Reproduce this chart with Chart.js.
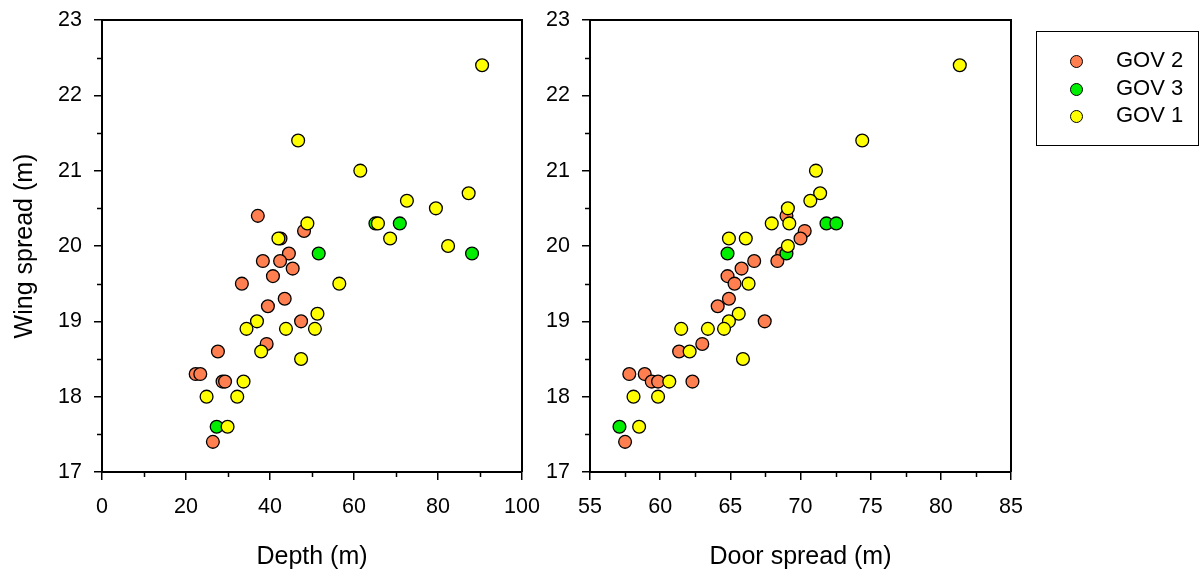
<!DOCTYPE html>
<html>
<head>
<meta charset="utf-8">
<script src="https://cdn.jsdelivr.net/npm/chart.js@4/dist/chart.umd.min.js"></script>
<style>
  html, body { margin:0; padding:0; background:#fff; }
  body { width:1203px; height:578px; position:relative; overflow:hidden; font-family:"Liberation Sans", Arial, sans-serif; }
  #c1 { position:absolute; left:0; top:0; }
  #c2 { position:absolute; left:530px; top:0; }
  #legend { position:absolute; left:1036px; top:31px; width:163px; height:115px; border:1.5px solid #000; box-sizing:border-box; }
  .row { position:absolute; left:0; height:24px; width:160px; }
  .dot { position:absolute; left:33px; top:6px; width:11px; height:11px; border:1.2px solid #000; border-radius:50%; }
  .lab { position:absolute; left:79px; top:-1px; font-size:22px; line-height:24px; color:#000; white-space:nowrap; }
</style>
</head>
<body>
<canvas id="c1" width="560" height="578"></canvas>
<canvas id="c2" width="673" height="578"></canvas>
<div id="legend"></div>
<script>
// ---- Data ----
const seriesNames = ["GOV 2", "GOV 3", "GOV 1"];
const seriesColors = ["#FF7F50", "#00EE00", "#FFFF00"];

// Panel 1: Depth (m) vs Wing spread (m)
const gov2Depth     = [37.1, 48.1, 42.5, 44.5, 38.3, 42.4, 45.4, 40.7, 33.3, 43.5, 39.5, 47.4, 39.2, 27.6, 22.3, 23.4, 28.7, 29.3, 26.4];
const gov2DepthWing = [20.4, 20.2, 20.1, 19.9, 19.8, 19.8, 19.7, 19.6, 19.5, 19.3, 19.2, 19.0, 18.7, 18.6, 18.3, 18.3, 18.2, 18.2, 17.4];
const gov3Depth     = [27.3, 51.6, 65.1, 70.9, 88.1];
const gov3DepthWing = [17.6, 19.9, 20.3, 20.3, 19.9];
const gov1Depth     = [90.5, 46.7, 61.5, 87.3, 72.6, 79.5, 48.9, 65.7, 68.6, 42.0, 82.4, 56.5, 51.3, 36.9, 34.4, 43.8, 50.7, 37.9, 47.4, 33.7, 24.9, 32.2, 29.9];
const gov1DepthWing = [22.4, 21.4, 21.0, 20.7, 20.6, 20.5, 20.3, 20.3, 20.1, 20.1, 20.0, 19.5, 19.1, 19.0, 18.9, 18.9, 18.9, 18.6, 18.5, 18.2, 18.0, 18.0, 17.6];

// Panel 2: Door spread (m) vs Wing spread (m)
const gov2Door     = [69.0, 70.3, 70.0, 68.7, 68.35, 66.7, 65.8, 64.8, 65.3, 64.9, 64.1, 67.45, 63.0, 61.35, 57.8, 58.9, 59.4, 59.85, 62.3, 57.5];
const gov2DoorWing = [20.4, 20.2, 20.1, 19.9, 19.8, 19.8, 19.7, 19.6, 19.5, 19.3, 19.2, 19.0, 18.7, 18.6, 18.3, 18.3, 18.2, 18.2, 18.2, 17.4];
const gov3Door     = [57.1, 64.8, 69.0, 71.85, 72.55];
const gov3DoorWing = [17.6, 19.9, 19.9, 20.3, 20.3];
const gov1Door     = [81.35, 74.4, 71.1, 71.4, 70.7, 69.1, 67.95, 69.2, 64.9, 66.1, 69.1, 66.3, 65.6, 64.9, 61.5, 63.4, 64.55, 62.1, 65.9, 60.65, 58.1, 59.85, 58.5];
const gov1DoorWing = [22.4, 21.4, 21.0, 20.7, 20.6, 20.5, 20.3, 20.3, 20.1, 20.1, 20.0, 19.5, 19.1, 19.0, 18.9, 18.9, 18.9, 18.6, 18.5, 18.2, 18.0, 18.0, 17.6];

// Axis settings
const yMin = 17, yMax = 23, yStep = 1;
const depthMin = 0, depthMax = 100, depthStep = 20;
const doorMin = 55, doorMax = 85, doorStep = 5;
const yTitle = "Wing spread (m)";
const xTitle1 = "Depth (m)";
const xTitle2 = "Door spread (m)";

// ---- Rendering ----
const FONT = '"Liberation Sans", Arial, sans-serif';
const pts = (xs, ys) => xs.map((x, i) => ({x: x, y: ys[i]}));

function ds(label, color, data) {
  return {
    label: label, data: data,
    backgroundColor: color, borderColor: "#000", borderWidth: 1.3,
    pointRadius: 6.4, pointHoverRadius: 6.4
  };
}

const framePlugin = {
  id: "frame",
  beforeDatasetsDraw(chart) {
    const ctx = chart.ctx, a = chart.chartArea;
    ctx.save();
    ctx.strokeStyle = "#000";
    ctx.lineWidth = 2;
    ctx.beginPath();
    ctx.moveTo(a.left, a.top);
    ctx.lineTo(a.right, a.top);
    ctx.lineTo(a.right, a.bottom);
    ctx.stroke();
    // minor ticks halfway between major ticks
    ctx.lineWidth = 1.5;
    const xs = chart.scales.x, ys = chart.scales.y;
    ctx.beginPath();
    for (let i = 0; i < xs.ticks.length - 1; i++) {
      const v = (xs.ticks[i].value + xs.ticks[i + 1].value) / 2;
      const p = Math.round(xs.getPixelForValue(v)) + 0.5;
      ctx.moveTo(p, a.bottom);
      ctx.lineTo(p, a.bottom + 5);
    }
    for (let i = 0; i < ys.ticks.length - 1; i++) {
      const v = (ys.ticks[i].value + ys.ticks[i + 1].value) / 2;
      const p = Math.round(ys.getPixelForValue(v)) + 0.5;
      ctx.moveTo(a.left, p);
      ctx.lineTo(a.left - 5, p);
    }
    ctx.stroke();
    ctx.restore();
  }
};

function makeOptions(xMin, xMax, xStep, xTitle, yWidth, showYTitle, padLeft, padRight) {
  return {
    responsive: false,
    animation: false,
    devicePixelRatio: 1,
    layout: { padding: { left: padLeft, right: padRight, top: 20, bottom: 0 } },
    plugins: { legend: { display: false }, tooltip: { enabled: false } },
    scales: {
      x: {
        type: "linear", position: "bottom",
        min: xMin, max: xMax,
        border: { display: true, color: "#000", width: 2 },
        grid: { display: true, drawOnChartArea: false, drawTicks: true, tickLength: 8, color: "#000", lineWidth: 1.5 },
        ticks: { stepSize: xStep, color: "#000", padding: 14, maxRotation: 0, autoSkip: false,
                 font: { family: FONT, size: 21.5 } },
        title: { display: true, text: xTitle, color: "#000", font: { family: FONT, size: 25 },
                 padding: { top: 0, bottom: 6 } },
        afterFit(s) { s.height = 106; s.paddingLeft = 0; s.paddingRight = 0; }
      },
      y: {
        type: "linear", position: "left",
        min: yMin, max: yMax,
        border: { display: true, color: "#000", width: 2 },
        grid: { display: true, drawOnChartArea: false, drawTicks: true, tickLength: 8, color: "#000", lineWidth: 1.5 },
        ticks: { stepSize: yStep, color: "#000", padding: 12, font: { family: FONT, size: 21.5 } },
        title: { display: showYTitle, text: yTitle, color: "#000", font: { family: FONT, size: 25 },
                 padding: { top: 10, bottom: 0 } },
        afterFit(s) { s.width = yWidth; s.paddingTop = 0; s.paddingBottom = 0; }
      }
    }
  };
}

// dataset order: GOV 1 first so it is drawn on top, GOV 2 at the bottom
new Chart(document.getElementById("c1"), {
  type: "scatter",
  data: { datasets: [
    ds(seriesNames[2], seriesColors[2], pts(gov1Depth, gov1DepthWing)),
    ds(seriesNames[1], seriesColors[1], pts(gov3Depth, gov3DepthWing)),
    ds(seriesNames[0], seriesColors[0], pts(gov2Depth, gov2DepthWing))
  ]},
  options: makeOptions(depthMin, depthMax, depthStep, xTitle1, 102, true, 0, 38),
  plugins: [framePlugin]
});

new Chart(document.getElementById("c2"), {
  type: "scatter",
  data: { datasets: [
    ds(seriesNames[2], seriesColors[2], pts(gov1Door, gov1DoorWing)),
    ds(seriesNames[1], seriesColors[1], pts(gov3Door, gov3DoorWing)),
    ds(seriesNames[0], seriesColors[0], pts(gov2Door, gov2DoorWing))
  ]},
  options: makeOptions(doorMin, doorMax, doorStep, xTitle2, 60, false, 0, 192),
  plugins: [framePlugin]
});

// Legend
const legend = document.getElementById("legend");
seriesNames.forEach((name, i) => {
  const row = document.createElement("div");
  row.className = "row";
  row.style.top = (17 + i * 27.5) + "px";
  const dot = document.createElement("span");
  dot.className = "dot";
  dot.style.background = seriesColors[i];
  const lab = document.createElement("span");
  lab.className = "lab";
  lab.textContent = name;
  row.appendChild(dot); row.appendChild(lab);
  legend.appendChild(row);
});
</script>
</body>
</html>
